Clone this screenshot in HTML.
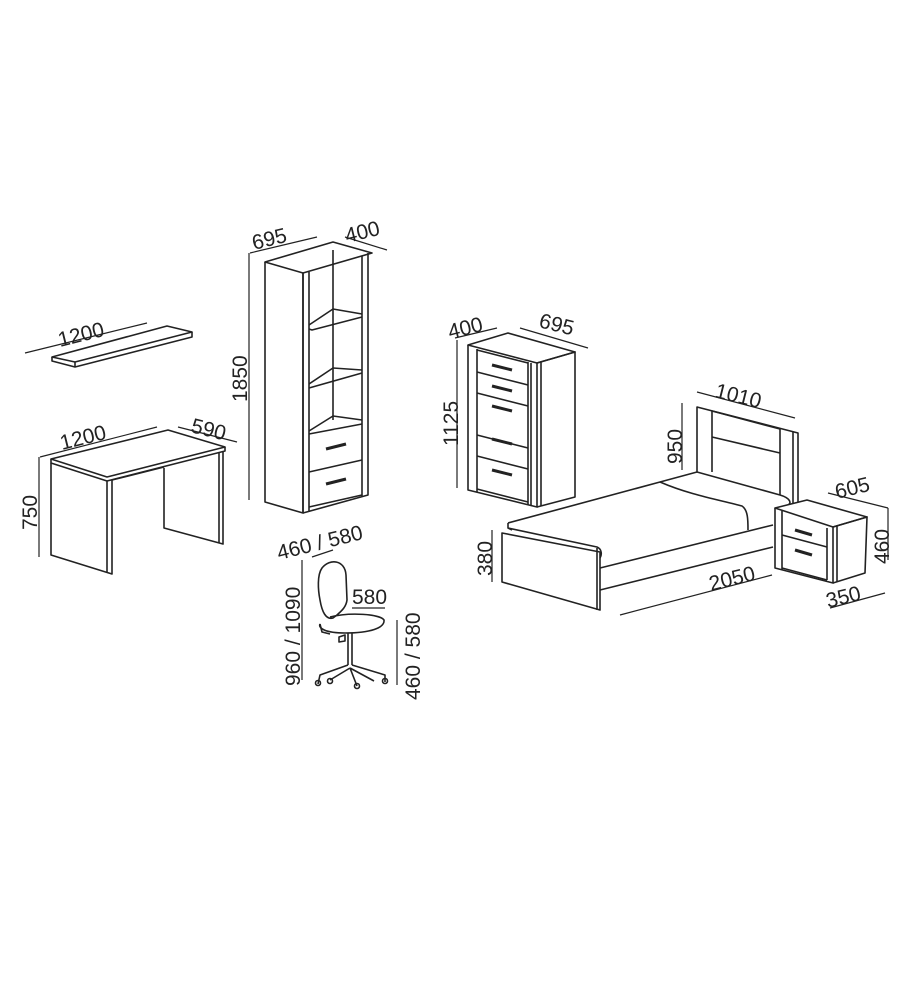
<!DOCTYPE html>
<html><head><meta charset="utf-8"><style>
html,body{margin:0;padding:0;background:#fff;}
svg{display:block;}
text{font-family:"Liberation Sans",sans-serif;font-size:21px;fill:#222;}
</style></head><body>
<svg width="908" height="998" viewBox="0 0 908 998" xmlns="http://www.w3.org/2000/svg">
<g fill="none" stroke="#222" stroke-width="1.6" stroke-linejoin="round">
<!-- shelf -->
<polygon points="52,357 167,326 192,332 75,362" fill="#fff"/>
<polyline points="52,357 52,361 75,367 192,337 192,332"/>
<line x1="75" y1="362" x2="75" y2="367"/>
<line x1="25" y1="353" x2="147" y2="323" stroke-width="1.2"/>
<!-- desk -->
<polygon points="51,459 168,430 225,447 107,477" fill="#fff"/>
<polyline points="51,459 51,463 107,481 225,451 225,447"/>
<polyline points="51,463 51,555 112,574 112,480"/>
<line x1="107" y1="481" x2="107" y2="572"/>
<polyline points="164,468 164,528 223,544 223,451"/>
<line x1="219" y1="452" x2="219" y2="543"/>
<line x1="112" y1="480" x2="164" y2="467"/>
<line x1="39" y1="457" x2="39" y2="557" stroke-width="1.2"/>
<line x1="40" y1="457" x2="157" y2="427" stroke-width="1.2"/>
<line x1="178" y1="427" x2="237" y2="442" stroke-width="1.2"/>
<!-- bookcase -->
<polygon points="265,262 333,242 372,253 303,273" fill="#fff"/>
<polyline points="265,262 265,502 303,513 303,273"/>
<line x1="303" y1="273" x2="303" y2="513"/>
<line x1="309" y1="272" x2="309" y2="512"/>
<polyline points="303,513 368,495 368,253"/>
<line x1="362" y1="256" x2="362" y2="496"/>
<line x1="333" y1="250" x2="333" y2="420"/>
<polyline points="309,329 312,330 362,317"/><polyline points="309,325 333,309 362,314"/>
<polyline points="309,388 362,373"/><polyline points="309,384 333,368 362,370"/>
<polyline points="309,434 362,424"/><polyline points="309,431 333,416 362,420"/>
<line x1="309" y1="472" x2="362" y2="460"/>
<line x1="309" y1="507" x2="362" y2="495"/>
<line x1="326" y1="449" x2="346" y2="444" stroke-width="3"/>
<line x1="326" y1="484" x2="346" y2="479" stroke-width="3"/>
<line x1="249" y1="253" x2="249" y2="500" stroke-width="1.2"/>
<line x1="250" y1="253" x2="317" y2="237" stroke-width="1.2"/>
<line x1="345" y1="237" x2="387" y2="250" stroke-width="1.2"/>
<!-- chair -->
<path d="M322,568 C330,558 345,560 346,575 L347,600 C346,608 340,612 337,615 L333,618 C326,620 322,612 320,600 C318,590 317,575 322,568 Z" fill="#fff"/>
<path d="M330,617 C350,612 380,614 384,620 C385,628 370,633 345,633 C325,633 318,628 320,624"/>
<path d="M320,624 L322,632 L330,634"/>
<line x1="348" y1="633" x2="348" y2="665"/>
<line x1="352" y1="633" x2="352" y2="665"/>
<path d="M339,637 L345,635 L345,641 L339,642 Z"/>
<path d="M348,665 L320,675 L318,684 M352,665 L385,675 L385,682 M350,668 L330,680 M350,668 L357,686 M350,668 L374,681"/>
<circle cx="318" cy="683" r="2.5"/><circle cx="385" cy="681" r="2.5"/><circle cx="357" cy="686" r="2.5"/><circle cx="330" cy="681" r="2.5"/>
<line x1="312" y1="557" x2="333" y2="550" stroke-width="1.2"/>
<line x1="302" y1="560" x2="302" y2="680" stroke-width="1.2"/>
<line x1="352" y1="608" x2="385" y2="608" stroke-width="1.2"/>
<line x1="397" y1="620" x2="397" y2="685" stroke-width="1.2"/>
<!-- chest -->
<polygon points="468,345 508,333 575,352 537,363" fill="#fff"/>
<polyline points="468,345 468,490 537,507 537,363"/>
<line x1="477" y1="349" x2="477" y2="492"/>
<line x1="528" y1="362" x2="528" y2="505"/>
<line x1="531" y1="363" x2="531" y2="506"/>
<polyline points="537,363 575,352 575,497 537,507"/>
<line x1="541" y1="362" x2="541" y2="506"/>
<line x1="477" y1="350" x2="528" y2="363"/>
<line x1="477" y1="372" x2="528" y2="385"/>
<line x1="477" y1="393" x2="528" y2="406"/>
<line x1="477" y1="435" x2="528" y2="448"/>
<line x1="477" y1="456" x2="528" y2="469"/>
<line x1="477" y1="489" x2="528" y2="502"/>
<g stroke-width="3"><line x1="492" y1="365" x2="512" y2="370"/><line x1="492" y1="386" x2="512" y2="391"/><line x1="492" y1="406" x2="512" y2="411"/><line x1="492" y1="439" x2="512" y2="444"/><line x1="492" y1="470" x2="512" y2="475"/></g>
<line x1="457" y1="340" x2="457" y2="488" stroke-width="1.2"/>
<line x1="455" y1="338" x2="497" y2="328" stroke-width="1.2"/>
<line x1="520" y1="328" x2="588" y2="348" stroke-width="1.2"/>
<!-- bed -->
<polyline points="697,472 697,407 798,433 798,505"/>
<line x1="793" y1="432" x2="793" y2="505"/>
<line x1="712" y1="411" x2="712" y2="472"/>
<line x1="780" y1="429" x2="780" y2="495"/>
<line x1="712" y1="411" x2="780" y2="429"/>
<line x1="712" y1="437" x2="780" y2="453"/>
<path d="M508,523 L660,482 L697,472 L780,495 C790,498 792,503 788,505" fill="none"/>
<path d="M660,482 C690,495 720,500 742,506 C748,510 748,520 748,530"/>
<path d="M508,523 L508,528 L597,547 C602,549 602,555 600,558"/>
<path d="M508,528 L512,530"/>
<polygon points="502,533 502,582 600,610 600,552"/>
<line x1="597" y1="548" x2="597" y2="610"/>
<line x1="600" y1="568" x2="773" y2="525"/>
<line x1="600" y1="590" x2="773" y2="547"/>
<line x1="682" y1="403" x2="682" y2="470" stroke-width="1.2"/>
<line x1="697" y1="392" x2="795" y2="418" stroke-width="1.2"/>
<line x1="492" y1="530" x2="492" y2="582" stroke-width="1.2"/>
<line x1="620" y1="615" x2="772" y2="575" stroke-width="1.2"/>
<!-- nightstand -->
<polygon points="775,508 807,500 867,517 833,527" fill="#fff"/>
<polyline points="775,508 775,568 833,583 833,527"/>
<line x1="782" y1="511" x2="782" y2="570"/>
<line x1="827" y1="528" x2="827" y2="580"/>
<polyline points="833,527 867,517 865,573 833,583"/>
<line x1="837" y1="526" x2="837" y2="582"/>
<line x1="782" y1="535" x2="827" y2="547"/>
<line x1="782" y1="568" x2="827" y2="580"/>
<g stroke-width="3"><line x1="795" y1="530" x2="812" y2="535"/><line x1="795" y1="550" x2="812" y2="555"/></g>
<line x1="828" y1="493" x2="888" y2="508" stroke-width="1.2"/>
<line x1="888" y1="508" x2="888" y2="560" stroke-width="1.2"/>
<line x1="830" y1="608" x2="885" y2="593" stroke-width="1.2"/>
</g>
<!-- labels -->
<text transform="translate(60,347) rotate(-14)">1200</text>
<text transform="translate(62,450) rotate(-14)">1200</text>
<text transform="translate(190,432) rotate(14)">590</text>
<text transform="translate(37,530) rotate(-90)">750</text>
<text transform="translate(254,250) rotate(-14)">695</text>
<text transform="translate(347,243) rotate(-14)">400</text>
<text transform="translate(247,402) rotate(-90)">1850</text>
<text transform="translate(279,560) rotate(-14)">460 / 580</text>
<text transform="translate(300,686) rotate(-90)">960 / 1090</text>
<text x="352" y="604">580</text>
<text transform="translate(420,700) rotate(-90)">460 / 580</text>
<text transform="translate(450,339) rotate(-14)">400</text>
<text transform="translate(538,327) rotate(14)">695</text>
<text transform="translate(458,446) rotate(-90)">1125</text>
<text transform="translate(714,397) rotate(14)">1010</text>
<text transform="translate(682,464) rotate(-90)">950</text>
<text transform="translate(492,576) rotate(-90)">380</text>
<text transform="translate(711,591) rotate(-14)">2050</text>
<text transform="translate(837,499) rotate(-14)">605</text>
<text transform="translate(889,564) rotate(-90)">460</text>
<text transform="translate(828,608) rotate(-14)">350</text>
</svg>
</body></html>
